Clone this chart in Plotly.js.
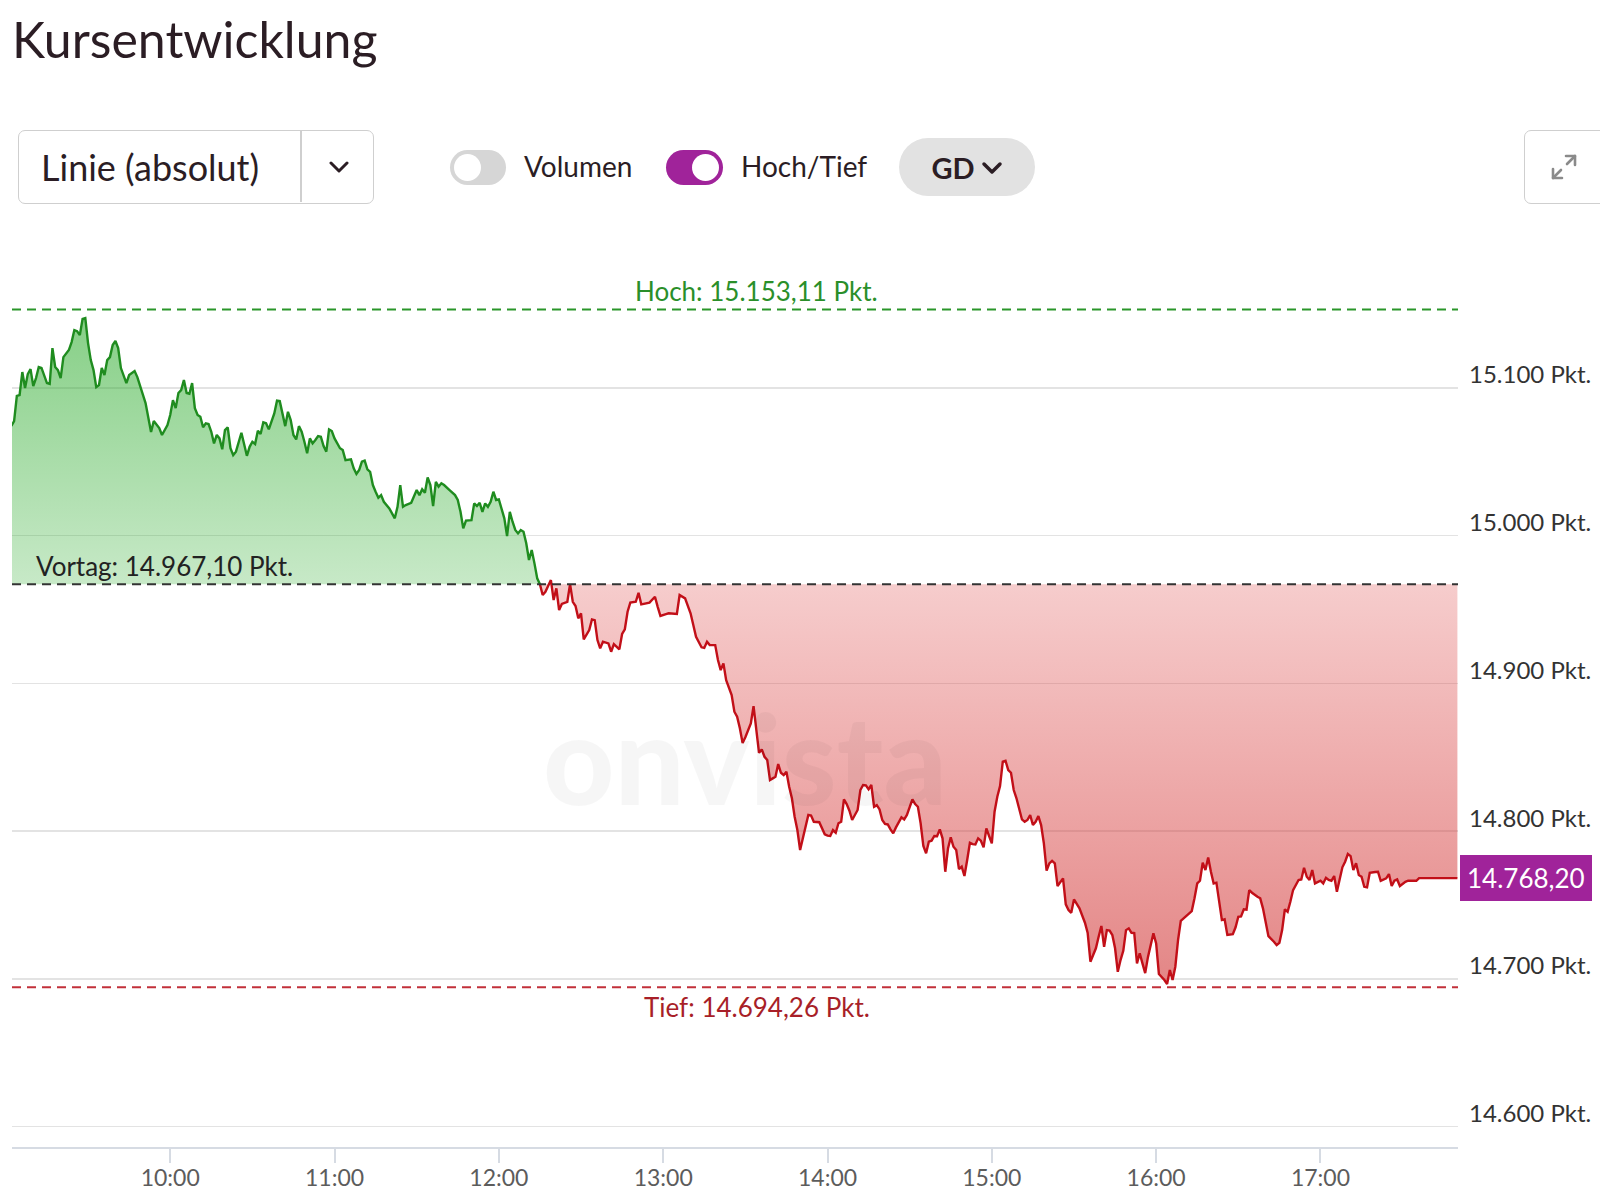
<!DOCTYPE html>
<html>
<head>
<meta charset="utf-8">
<script src="https://cdn.plot.ly/plotly-3.0.1.min.js"></script>
<style>
html,body{margin:0;padding:0;background:#fff;}
body{width:1600px;height:1200px;position:relative;overflow:hidden;font-family:Lato,"Noto Sans",sans-serif;color:#2b1d24;}
#chart{position:absolute;left:0;top:0;width:1600px;height:1200px;}
.ui{position:absolute;box-sizing:border-box;}
#title{left:12px;top:9px;font-size:50px;line-height:1.2;font-weight:400;color:#2b1d24;white-space:nowrap;}
#dd{left:18px;top:130px;width:356px;height:74px;border:1.5px solid #cfcfcf;border-radius:7px;background:#fff;}
#dd .txt{position:absolute;left:22px;top:0;height:71px;display:flex;align-items:center;font-size:36px;color:#2b1d24;white-space:nowrap;}
#dd .sep{position:absolute;left:281px;top:0;width:1.5px;height:71px;background:#cfcfcf;}
#dd svg{position:absolute;left:310px;top:30px;}
.track{height:35px;top:150px;border-radius:18px;}
.knob{position:absolute;top:4px;width:27px;height:27px;border-radius:50%;background:#fff;}
.lbl{top:146px;height:40px;display:flex;align-items:center;font-size:28px;color:#2b1d24;white-space:nowrap;}
#gd{left:899px;top:138px;width:136px;height:58px;border-radius:29px;background:#e2e2e2;display:flex;align-items:center;justify-content:center;font-size:29px;font-weight:700;color:#2b1d24;}
#gd svg{margin-left:6px;margin-top:2px;}
#exp{left:1524px;top:130px;width:90px;height:74px;border:1.5px solid #cfcfcf;border-radius:7px;background:#fff;}
#exp svg{position:absolute;left:24px;top:21px;}
</style>
</head>
<body>
<div id="chart"></div>

<div class="ui" id="title">Kursentwicklung</div>

<div class="ui" id="dd">
  <div class="txt">Linie (absolut)</div>
  <div class="sep"></div>
  <svg width="20" height="12" viewBox="0 0 20 12"><polyline points="2,2 10,10 18,2" fill="none" stroke="#2b1d24" stroke-width="3" stroke-linecap="round" stroke-linejoin="round"/></svg>
</div>

<div class="ui track" style="left:450px;width:56px;background:#d6d6d6;"><div class="knob" style="left:4px;"></div></div>
<div class="ui lbl" style="left:524px;">Volumen</div>

<div class="ui track" style="left:666px;width:57px;background:#a0239a;"><div class="knob" style="left:26px;"></div></div>
<div class="ui lbl" style="left:741px;">Hoch/Tief</div>

<div class="ui" id="gd">GD<svg width="22" height="14" viewBox="0 0 22 14"><polyline points="3,3 11,11 19,3" fill="none" stroke="#2b1d24" stroke-width="3.5" stroke-linecap="round" stroke-linejoin="round"/></svg></div>

<div class="ui" id="exp">
  <svg width="30" height="30" viewBox="0 0 30 30" fill="none" stroke="#8a8a8a" stroke-width="2.6" stroke-linecap="round" stroke-linejoin="round">
    <polyline points="17,4 26,4 26,13"/><line x1="26" y1="4" x2="18" y2="12"/>
    <polyline points="4,17 4,26 13,26"/><line x1="4" y1="26" x2="12" y2="18"/>
  </svg>
</div>

<script>
// ---------------- data ----------------
const DAY = '2024-01-01';

const times = [
"09:02","09:03","09:04","09:05","09:06","09:07","09:08","09:09","09:10","09:11",
"09:12","09:13","09:15","09:16","09:17","09:18","09:19","09:20","09:21","09:23",
"09:24","09:25","09:26","09:27","09:28","09:29","09:30","09:31","09:32","09:33",
"09:34","09:35","09:36","09:37","09:38","09:39","09:40","09:41","09:42","09:44",
"09:45","09:47","09:48","09:50","09:51","09:53","09:54","09:56","09:57","09:59",
"10:00","10:01","10:02","10:03","10:04","10:05","10:06","10:07","10:08","10:09",
"10:10","10:11","10:12","10:13","10:14","10:15","10:16","10:17","10:18","10:19",
"10:20","10:21","10:22","10:23","10:24","10:26","10:27","10:28","10:29","10:30",
"10:31","10:32","10:33","10:34","10:35","10:36","10:38","10:39","10:40","10:41",
"10:42","10:43","10:44","10:45","10:46","10:47","10:48","10:49","10:50","10:51",
"10:52","10:53","10:54","10:55","10:56","10:57","10:58","10:59","11:00","11:02",
"11:03","11:04","11:06","11:07","11:08","11:09","11:10","11:11","11:12","11:13",
"11:14","11:15","11:16","11:17","11:18","11:20","11:21","11:22","11:23","11:24",
"11:25","11:26","11:28","11:29","11:30","11:31","11:32","11:33","11:34","11:35",
"11:36","11:37","11:38","11:39","11:40","11:42","11:44","11:45","11:46","11:47",
"11:48","11:50","11:51","11:52","11:53","11:54","11:55","11:56","11:57","11:58",
"11:59","12:00","12:01","12:02","12:03","12:04","12:05","12:06","12:07","12:08",
"12:09","12:10","12:11","12:12","12:13","12:14","12:15",
"12:16","12:17","12:19","12:20","12:21","12:22","12:23","12:25","12:26","12:27",
"12:28","12:29","12:30","12:31","12:33","12:34","12:35","12:36","12:37","12:38",
"12:39","12:40","12:41","12:42","12:44","12:45","12:46","12:47","12:48","12:50",
"12:51","12:52","12:55","12:56","12:57","12:58","12:59","13:01","13:02","13:05",
"13:06","13:08","13:10","13:11","13:12","13:14","13:15","13:16","13:17","13:19",
"13:20","13:21","13:22","13:23","13:25","13:26","13:27","13:28","13:29","13:30",
"13:32","13:33","13:34","13:35","13:36","13:37","13:38","13:39","13:40","13:41",
"13:42","13:43","13:44","13:45","13:46","13:47","13:48","13:49","13:50","13:51",
"13:52","13:53","13:54","13:55","13:57","13:58","13:59","14:00","14:01","14:02",
"14:03","14:04","14:05","14:06","14:07","14:08","14:09","14:11","14:12","14:13",
"14:14","14:15","14:16","14:17","14:18","14:19","14:20","14:21","14:22","14:23",
"14:24","14:25","14:27","14:28","14:29","14:31","14:32","14:33","14:34","14:35",
"14:36","14:37","14:38","14:39","14:40","14:41","14:42","14:43","14:44","14:45",
"14:46","14:47","14:48","14:49","14:50","14:51","14:52","14:53","14:54","14:55",
"14:56","14:57","14:58","14:59","15:00","15:01","15:02","15:03","15:04","15:05",
"15:06","15:07","15:08","15:09","15:10","15:11","15:12","15:13","15:14","15:15",
"15:16","15:17","15:18","15:19","15:20","15:21","15:22","15:23","15:24","15:25",
"15:26","15:27","15:28","15:29","15:30","15:32","15:33","15:34","15:35","15:36",
"15:37","15:38","15:39","15:40","15:41","15:42","15:43","15:44","15:45","15:46",
"15:47","15:48","15:49","15:50","15:51","15:52","15:53","15:54","15:55","15:56",
"15:57","15:59","16:00","16:01","16:03","16:04","16:05","16:06","16:07","16:08",
"16:09","16:10","16:12","16:13","16:14","16:15","16:16","16:17","16:18","16:19",
"16:20","16:21","16:22","16:23","16:24","16:25","16:26","16:28","16:29","16:30",
"16:31","16:32","16:33","16:34","16:35","16:37","16:38","16:39","16:40","16:41",
"16:43","16:44","16:45","16:46","16:47","16:48","16:49","16:50","16:52","16:53",
"16:54","16:55","16:56","16:57","16:58","16:59","17:00","17:01","17:02","17:03",
"17:04","17:05","17:06","17:07","17:08","17:09","17:10","17:11","17:12","17:13",
"17:14","17:15","17:16","17:17","17:18","17:20","17:21","17:22","17:24","17:25",
"17:26","17:27","17:28","17:29","17:31","17:32","17:35","17:36","17:50"
];

const prices = [
15074.2,15077.5,15094.5,15095.1,15110.7,15099.9,15109.3,15112.7,15101.2,15106.6,
15114.1,15113.5,15103.2,15102.6,15126.9,15114.1,15112.0,15106.6,15120.8,15125.6,
15131.0,15139.1,15138.4,15135.7,15146.6,15147.2,15130.3,15118.8,15112.0,15100.5,
15101.9,15113.4,15108.7,15118.8,15120.8,15129.0,15131.7,15126.9,15113.4,15103.2,
15108.7,15111.4,15107.3,15096.5,15089.7,15070.1,15077.5,15072.8,15068.1,15074.8,
15081.6,15091.7,15086.3,15096.5,15098.5,15105.3,15096.5,15096.0,15103.2,15086.3,
15081.6,15080.4,15073.3,15076.0,15075.5,15070.3,15062.4,15068.1,15065.8,15058.4,
15071.4,15073.3,15059.1,15054.5,15056.8,15069.6,15062.4,15054.0,15060.1,15063.5,
15062.0,15071.0,15068.7,15076.7,15076.0,15071.9,15082.7,15091.3,15091.0,15082.7,
15074.1,15083.8,15078.2,15068.1,15065.1,15074.1,15070.3,15063.5,15055.7,15065.8,
15062.4,15064.7,15067.4,15066.9,15060.6,15056.8,15071.9,15070.8,15065.8,15059.1,
15057.9,15051.1,15051.6,15045.5,15041.7,15044.4,15050.0,15050.7,15044.8,15043.2,
15034.2,15029.7,15025.6,15027.4,15022.9,15018.4,15015.1,15011.7,15019.5,15034.2,
15019.5,15020.7,15022.2,15026.3,15030.8,15027.4,15031.3,15029.0,15039.4,15034.2,
15020.0,15036.4,15033.1,15035.4,15034.2,15030.8,15027.4,15024.1,15016.1,15004.9,
15010.1,15010.5,15021.8,15020.0,15022.2,15016.1,15021.8,15019.5,15022.9,15029.7,
15024.1,15024.5,15017.3,15011.7,14999.7,15016.1,15009.4,15003.8,15001.5,15003.8,
15002.6,14994.8,14983.5,14990.2,14981.2,14971.1,14967.1,
14959.8,14962.0,14969.9,14956.4,14964.3,14949.6,14953.7,14955.2,14967.2,14955.2,
14952.3,14944.0,14947.4,14929.8,14936.1,14943.3,14942.8,14929.3,14923.7,14928.2,
14927.5,14927.0,14921.4,14926.6,14923.0,14933.4,14936.6,14948.5,14954.6,14955.2,
14961.3,14953.5,14954.6,14956.4,14958.6,14951.8,14945.6,14946.9,14947.4,14947.0,
14959.8,14957.5,14947.4,14939.5,14931.5,14924.4,14924.0,14928.2,14925.9,14925.9,
14915.8,14909.0,14913.5,14902.2,14892.1,14880.8,14877.4,14869.6,14859.6,14863.5,
14872.9,14884.6,14868.4,14853.0,14855.3,14850.3,14848.1,14834.6,14835.7,14836.8,
14845.4,14839.5,14837.9,14840.2,14830.0,14822.2,14809.7,14800.7,14787.2,14795.1,
14802.9,14810.9,14810.5,14806.3,14806.0,14801.9,14797.8,14796.9,14796.7,14800.7,
14798.9,14805.3,14806.3,14821.5,14818.3,14813.8,14807.5,14814.3,14827.8,14831.2,
14831.0,14828.3,14831.2,14816.5,14817.6,14814.7,14807.5,14804.8,14804.5,14801.2,
14798.5,14802.5,14809.3,14807.9,14810.9,14821.5,14818.3,14816.5,14805.3,14789.9,
14785.0,14792.8,14793.5,14796.7,14796.5,14801.2,14795.1,14772.5,14788.3,14795.8,
14789.4,14787.2,14774.3,14775.9,14769.6,14780.4,14792.1,14791.2,14791.0,14795.1,
14793.5,14789.0,14801.9,14796.7,14791.7,14813.1,14823.3,14830.5,14847.0,14847.6,
14841.3,14839.5,14827.8,14822.2,14814.3,14807.9,14806.3,14807.5,14810.9,14804.1,
14806.3,14810.2,14804.1,14791.7,14773.2,14778.2,14779.9,14778.2,14762.8,14765.7,
14768.0,14750.4,14746.6,14744.7,14753.8,14747.7,14743.2,14738.0,14731.0,14711.6,
14716.1,14720.7,14728.5,14735.8,14721.7,14733.0,14732.6,14729.7,14720.7,14704.8,
14712.7,14719.0,14733.0,14734.2,14731.2,14731.0,14710.5,14717.3,14710.5,14703.9,
14714.7,14730.8,14724.0,14703.3,14699.2,14696.5,14706.0,14699.2,14708.2,14726.3,
14739.3,14740.9,14744.3,14745.9,14754.5,14764.6,14766.4,14778.6,14773.6,14782.2,
14772.5,14764.6,14765.1,14752.2,14739.8,14740.3,14729.7,14730.3,14734.9,14742.0,
14742.3,14747.1,14746.8,14760.1,14758.3,14755.6,14754.5,14747.7,14739.3,14728.9,
14725.1,14722.9,14724.4,14733.0,14747.1,14745.4,14752.2,14760.1,14766.9,14767.3,
14775.2,14769.1,14766.9,14773.6,14764.6,14765.7,14766.4,14764.6,14768.4,14766.9,
14766.4,14769.6,14758.9,14767.3,14775.5,14779.3,14784.5,14783.1,14773.6,14778.2,
14770.3,14769.1,14762.3,14761.9,14771.8,14772.3,14772.5,14766.4,14768.0,14770.9,
14762.8,14766.4,14767.3,14762.8,14765.7,14766.4,14766.4,14768.2,14768.2
];

const vortag = 14967.10;
const hoch = 15153.11;
const tief = 14694.26;
const lastPrice = 14768.20;
const axisStart = '09:02:14';
const axisEnd = '17:50:13';
const yMin = 14586.2, yMax = 15193.3;
const watermark = 'onvista';

// ---------------- helpers ----------------
function de(v, dec) {
  const s = v.toFixed(dec);
  const parts = s.split('.');
  const i = parts[0].replace(/\B(?=(\d{3})+(?!\d))/g, '.');
  return parts.length > 1 ? i + ',' + parts[1] : i;
}
const X = t => DAY + ' ' + t;

// split at first crossing below previous close
let split = prices.findIndex(v => v <= vortag);
if (split < 0) split = prices.length - 1;
const gx = times.slice(0, split + 1).map(X), gy = prices.slice(0, split + 1);
const rx = times.slice(split).map(X), ry = prices.slice(split);

const greenLine = '#1f8c1f', redLine = '#c20f18';

const traces = [
  { x: [gx[0], gx[gx.length - 1]], y: [vortag, vortag], mode: 'lines', line: { width: 0 }, hoverinfo: 'skip', showlegend: false },
  { x: gx, y: gy, mode: 'lines', line: { color: greenLine, width: 2.4 }, fill: 'tonexty',
    fillgradient: { type: 'vertical', start: vortag, stop: Math.max(...gy),
      colorscale: [[0, 'rgba(40,170,40,0.26)'], [1, 'rgba(40,170,40,0.56)']] },
    fillcolor: 'rgba(40,170,40,0.4)', showlegend: false },
  { x: [rx[0], rx[rx.length - 1]], y: [vortag, vortag], mode: 'lines', line: { width: 0 }, hoverinfo: 'skip', showlegend: false },
  { x: rx, y: ry, mode: 'lines', line: { color: redLine, width: 2.4 }, fill: 'tonexty',
    fillgradient: { type: 'vertical', start: Math.min(...ry), stop: vortag,
      colorscale: [[0, 'rgba(210,60,60,0.62)'], [1, 'rgba(220,60,60,0.26)']] },
    fillcolor: 'rgba(215,60,60,0.4)', showlegend: false }
];

const dashLine = (y, color) => ({ type: 'line', xref: 'paper', x0: 0, x1: 1, yref: 'y', y0: y, y1: y,
  line: { color: color, width: 2, dash: '9px,6px' }, layer: 'above' });

const F = 'Lato, "Noto Sans", sans-serif';

const layout = {
  width: 1600, height: 1200,
  margin: { l: 12, r: 142, t: 250, b: 53, pad: 0 },
  paper_bgcolor: '#ffffff', plot_bgcolor: '#ffffff',
  separators: ',.',
  showlegend: false,
  font: { family: F, color: '#333' },
  xaxis: {
    type: 'date', range: [X(axisStart), X(axisEnd)],
    tick0: X('10:00'), dtick: 3600000, tickformat: '%H:%M',
    ticks: 'outside', ticklen: 14, tickwidth: 2, tickcolor: '#d6dbe3',
    showline: true, linecolor: '#d6dbe3', linewidth: 2,
    showgrid: false, zeroline: false,
    ticklabelstandoff: -5,
    tickfont: { family: F, size: 23, color: '#5c5c5c' }
  },
  yaxis: {
    side: 'right', range: [yMin, yMax],
    tick0: 14600, dtick: 100, tickformat: ',.0f', ticksuffix: ' Pkt.',
    showgrid: true, gridcolor: '#e3e3e3', gridwidth: 1.6,
    zeroline: false, showline: false, ticks: '',
    ticklabelshift: -13, ticklabelstandoff: 10,
    tickfont: { family: F, size: 24, color: '#333' }
  },
  shapes: [
    dashLine(hoch, '#2a962a'),
    dashLine(vortag, '#333333'),
    dashLine(tief, '#c2303a')
  ],
  annotations: [
    { text: watermark, xref: 'paper', x: 0.507, yref: 'y', y: 14850, xanchor: 'center', yanchor: 'middle',
      showarrow: false, font: { family: F, size: 124, weight: 900, color: 'rgba(0,0,0,0.035)' } },
    { text: 'Hoch: ' + de(hoch, 2) + ' Pkt.', xref: 'paper', x: 0.515, yref: 'y', y: hoch,
      xanchor: 'center', yanchor: 'bottom', showarrow: false, font: { family: F, size: 26, color: '#2a8f2a' } },
    { text: 'Vortag: ' + de(vortag, 2) + ' Pkt.', xref: 'paper', x: 0.0152, yref: 'y', y: vortag,
      xanchor: 'left', yanchor: 'bottom', showarrow: false, font: { family: F, size: 26, color: '#222' } },
    { text: 'Tief: ' + de(tief, 2) + ' Pkt.', xref: 'paper', x: 0.515, yref: 'y', y: tief, yshift: -2,
      xanchor: 'center', yanchor: 'top', showarrow: false, font: { family: F, size: 26, color: '#a81f28' } },
    { text: de(lastPrice, 2), xref: 'paper', x: 1, xshift: 2, yref: 'y', y: lastPrice,
      xanchor: 'left', yanchor: 'middle', showarrow: false, bgcolor: '#a0239a', bordercolor: '#a0239a',
      borderpad: 6, font: { family: F, size: 26, color: '#ffffff' } }
  ]
};

Plotly.newPlot('chart', traces, layout, { staticPlot: true, displayModeBar: false });
</script>
</body>
</html>
